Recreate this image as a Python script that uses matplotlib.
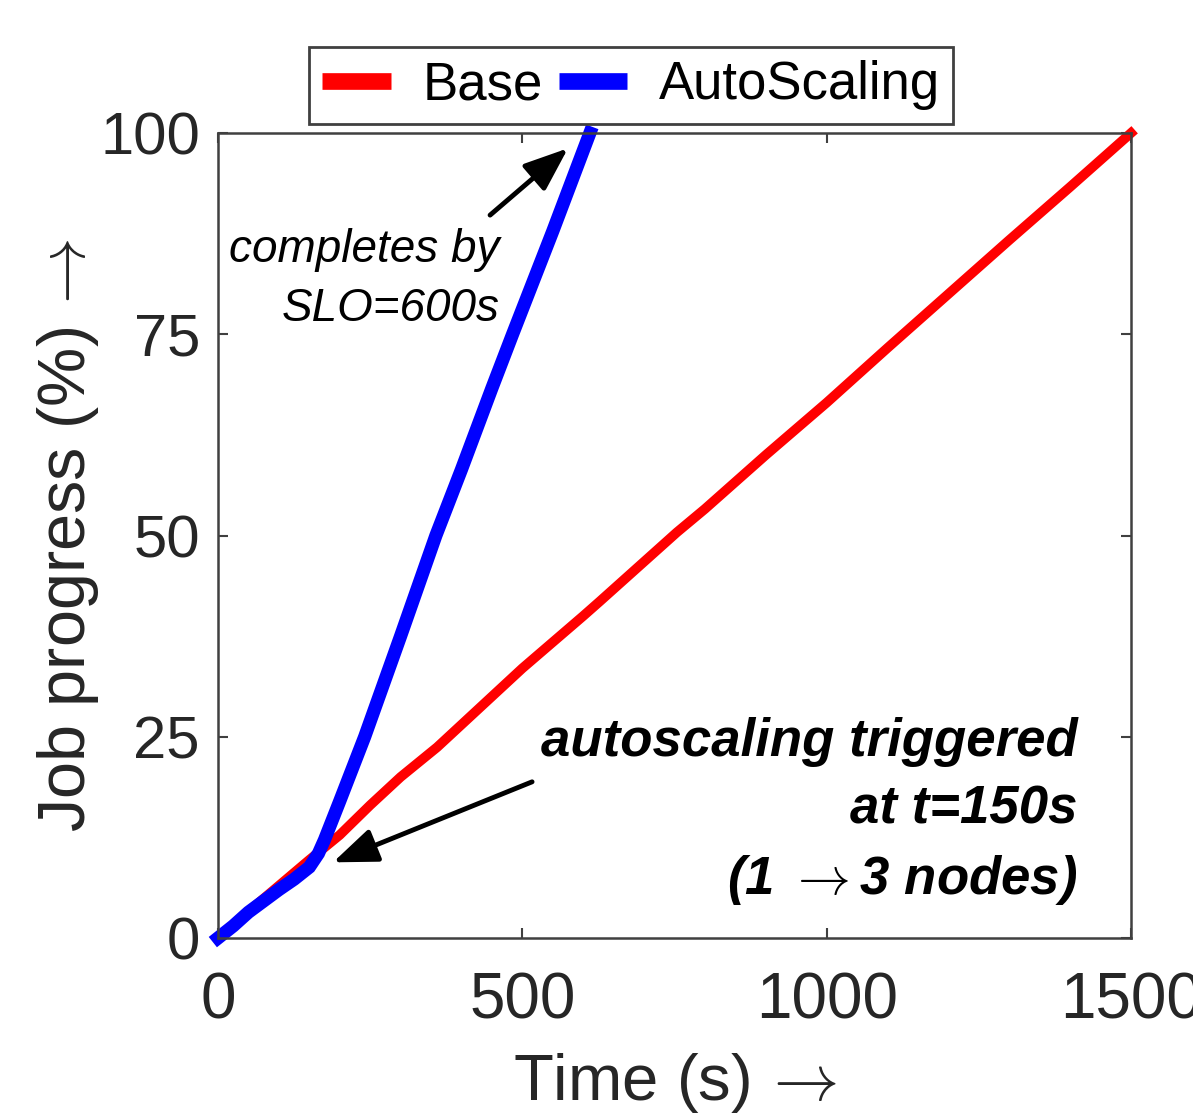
import matplotlib
matplotlib.use("Agg")
import matplotlib.pyplot as plt

plt.rcParams['font.family'] = ['Liberation Sans', 'DejaVu Sans']
plt.rcParams['mathtext.fontset'] = 'cm'

# Data
base_t = [0, 50, 100, 150, 200, 250, 300, 360, 400, 500, 600, 627, 754, 800, 900,
          1000, 1100, 1200, 1300, 1400, 1500]
base_p = [0, 3.3, 6.5, 9.7, 12.8, 16.5, 20.0, 23.7, 26.5, 33.5, 40.0, 41.8, 50.4, 53.3,
          60.0, 66.5, 73.3, 80.0, 86.7, 93.3, 100]

auto_t = [0, 25, 50, 75, 100, 125, 150, 165, 175, 200, 241, 300, 358, 400, 450, 484, 550, 611]
auto_p = [0, 1.5, 3.2, 4.6, 6.0, 7.3, 8.8, 10.5, 12.2, 17.0, 25.0, 37.5, 50.0, 58.2, 68.3,
          75.0, 87.8, 100]

xticks = [0, 500, 1000, 1500]
yticks = [0, 25, 50, 75, 100]

text_col = '#262626'
axis_col = '#404040'

fig = plt.figure(figsize=(11.93, 11.15), dpi=100)
ax = fig.add_axes([218/1193, 1-938/1115, (1131-218)/1193, (938-133)/1115])

ax.plot(base_t, base_p, color='#ff0000', lw=7, label='Base', clip_on=False,
        solid_joinstyle='miter')
ax.plot(auto_t, auto_p, color='#0000ff', lw=9.5, label='AutoScaling', clip_on=False,
        solid_joinstyle='miter')

ax.set_xlim(0, 1500)
ax.set_ylim(0, 100)
ax.set_xticks(xticks)
ax.set_yticks(yticks)
ax.tick_params(direction='in', length=7, width=1.5, colors=axis_col, labelcolor=text_col,
               top=True, right=True)
ax.tick_params(axis='x', pad=24, labelsize=46)
ax.tick_params(axis='y', pad=13, labelsize=43)
for s in ax.spines.values():
    s.set_color(axis_col)
    s.set_linewidth(1.8)

ax.set_xlabel(r'Time (s)$\,\rightarrow$', fontsize=47, color=text_col, labelpad=14)
ax.set_ylabel(r'Job progress (%)$\,\rightarrow$', fontsize=48, color=text_col, labelpad=-1)

leg = fig.legend(loc='center', bbox_to_anchor=(631/1193, 1-85.5/1115), ncol=2,
                 fontsize=38, handlelength=1.3, handletextpad=0.6, columnspacing=0.3,
                 borderpad=0.25, fancybox=False, framealpha=1, edgecolor=axis_col)
leg.get_frame().set_linewidth(2)
for h in leg.get_lines():
    h.set_linewidth(12)
    h.set_solid_capstyle('butt')

ax.annotate('', xy=(575, 98.1), xytext=(447, 89.8),
            arrowprops=dict(arrowstyle='-|>,head_length=0.9,head_width=0.35',
                            mutation_scale=30, lw=3.5, color='black', shrinkA=0, shrinkB=0))
ax.text(463, 81.8, 'completes by\nSLO=600s', ha='right', va='center', ma='right',
        fontsize=33, style='italic', color='black', linespacing=1.42)

ax.annotate('', xy=(189, 9.4), xytext=(516, 19.4),
            arrowprops=dict(arrowstyle='-|>,head_length=0.9,head_width=0.35',
                            mutation_scale=30, lw=3.5, color='black', shrinkA=0, shrinkB=0))
ax.text(1412, 15.6, 'autoscaling triggered\nat t=150s\n(1 $\\rightarrow$3 nodes)',
        ha='right', va='center', ma='right', fontsize=38, style='italic',
        fontweight='bold', color='black', linespacing=1.45)

fig.savefig('out.png', dpi=100)
